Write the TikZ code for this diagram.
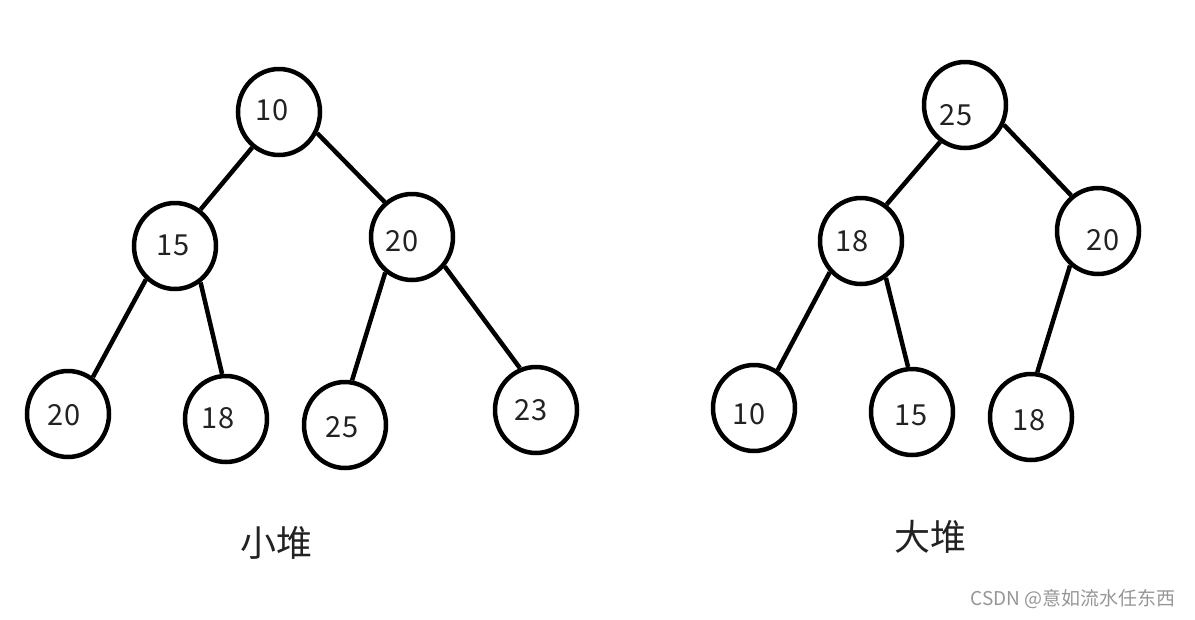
\documentclass[tikz,border=0pt]{standalone}
\usepackage{fontspec}
\setmainfont{Noto Sans CJK SC}
\usetikzlibrary{shapes.geometric}
\definecolor{ink}{RGB}{34,34,34}
\definecolor{mark}{RGB}{150,150,150}

\begin{document}
\begin{tikzpicture}[x=1pt, y=-1pt,
  heap/.style={draw=black, line width=4.5pt, ellipse, inner sep=0pt, minimum width=82pt, minimum height=86pt},
  num/.style={text=ink, font=\fontsize{29}{30}\selectfont},
  link/.style={line width=4.5pt, black}]
\useasboundingbox (0,0) rectangle (1195,619);
% left heap
\node[heap, label={[num, shift={(-7,-2)}]center:10}] (a) at (279,112) {};
\node[heap, label={[num, shift={(-2,-1)}]center:15}] (b) at (175,246) {};
\node[heap, label={[num, shift={(-10,4)}]center:20}] (c) at (412,237) {};
\node[heap, label={[num, shift={(-4,1)}]center:20}] (d) at (68,414) {};
\node[heap, label={[num, shift={(-8,-1)}]center:18}] (e) at (226,419) {};
\node[heap, label={[num, shift={(-3,2)}]center:25}] (f) at (345,425) {};
\node[heap, label={[num, shift={(-5,0)}]center:23}] (g) at (536,410) {};
\draw[link] (a.233)--(b.55);
\draw[link] (a.331)--(c.128);
\draw[link] (b.229)--(d.56);
\draw[link] (b.305)--(e.95);
\draw[link] (c.233)--(f.81);
\draw[link] (c.318)--(g.111);
\node[text=ink, font=\fontsize{36}{38}\selectfont] (lt) at (276,543) {小堆};
% right heap
\node[heap, label={[num, shift={(-9,10)}]center:25}] (h) at (965,105) {};
\node[heap, label={[num, shift={(-9,0)}]center:18}] (i) at (861,241) {};
\node[heap, label={[num, shift={(5,9)}]center:20}] (j) at (1098,231) {};
\node[heap, label={[num, shift={(-5,6)}]center:10}] (k) at (754,408) {};
\node[heap, label={[num, shift={(-1,3)}]center:15}] (l) at (912,412) {};
\node[heap, label={[num, shift={(-2,3)}]center:18}] (m) at (1031,417) {};
\draw[link] (h.236)--(i.55);
\draw[link] (h.333)--(j.127);
\draw[link] (i.225)--(k.58);
\draw[link] (i.304)--(l.95);
\draw[link] (j.231)--(m.82);
\node[text=ink, font=\fontsize{36}{38}\selectfont] (rt) at (930,537) {大堆};
\node[text=mark, font=\fontsize{19}{20}\selectfont] (wm) at (1073,599) {CSDN @意如流水任东西};
\end{tikzpicture}
\end{document}
